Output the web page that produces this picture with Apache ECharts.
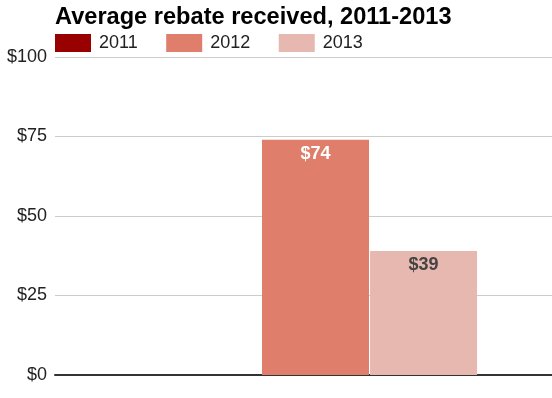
<!doctype html>
<html>
<head>
<meta charset="UTF-8">
<title>Average rebate received</title>
<script src="https://cdn.jsdelivr.net/npm/echarts@6/dist/echarts.min.js"></script>
<style>
  html, body { margin: 0; padding: 0; background: #fff; }
  #main { width: 552px; height: 398px; }
</style>
</head>
<body>
<div id="main"></div>
<script>
// data
var categories = [''];
var seriesNames = ['2011', '2012', '2013'];
var values2011 = [0];
var values2012 = [74];
var values2013 = [39];
var colors = ['#990000', '#de7e6b', '#e7b8b0'];
var labelColors = ['#ffffff', '#ffffff', '#444444'];

var chart = echarts.init(document.getElementById('main'));
var font = 'Liberation Sans, Arial, sans-serif';

function barSeries(i, data) {
  return {
    name: seriesNames[i],
    type: 'bar',
    data: data,
    barWidth: 107,
    barGap: '1%',
    itemStyle: { color: colors[i] },
    label: {
      show: i > 0,
      position: 'insideTop',
      distance: 5,
      formatter: '${c}',
      color: labelColors[i],
      fontFamily: font,
      fontWeight: 'bold',
      fontSize: 18
    }
  };
}

var option = {
  animation: false,
  title: {
    text: 'Average rebate received, 2011-2013',
    left: 55,
    top: 5,
    padding: 0,
    textStyle: { fontFamily: font, fontWeight: 'bold', fontSize: 23.6, color: '#000' }
  },
  legend: {
    data: seriesNames,
    left: 55,
    top: 34,
    padding: 0,
    icon: 'rect',
    itemWidth: 36,
    itemHeight: 18,
    itemGap: 28.5,
    textStyle: { fontFamily: font, fontSize: 18, color: '#222', padding: [0, 0, 0, 3] }
  },
  grid: { left: 55, right: -24, top: 57, bottom: 23, outerBoundsMode: 'none' },
  xAxis: {
    type: 'category',
    data: categories,
    axisLine: { lineStyle: { color: '#333', width: 2 } },
    axisTick: { show: false },
    axisLabel: { show: false }
  },
  yAxis: {
    type: 'value',
    min: 0,
    max: 100,
    interval: 25,
    axisLine: { show: false },
    axisTick: { show: false },
    splitLine: { lineStyle: { color: '#cccccc' } },
    axisLabel: {
      formatter: '${value}',
      fontFamily: font,
      fontSize: 18,
      color: '#222',
      margin: 8
    }
  },
  series: [
    barSeries(0, values2011),
    barSeries(1, values2012),
    barSeries(2, values2013)
  ]
};

chart.setOption(option);
</script>
</body>
</html>
